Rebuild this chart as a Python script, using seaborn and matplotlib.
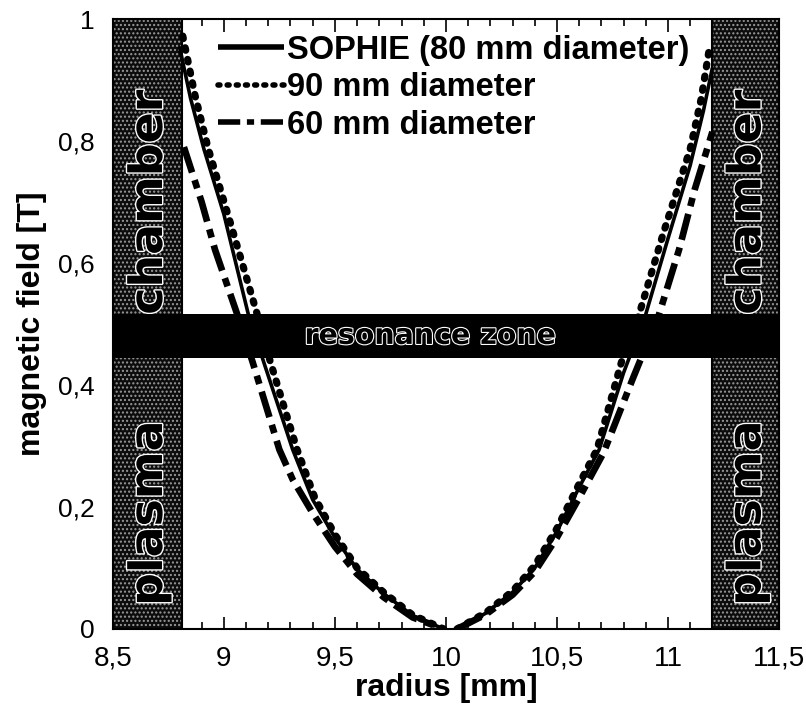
import matplotlib
matplotlib.use("Agg")
import matplotlib.pyplot as plt
import matplotlib.patheffects as pe
import matplotlib.ticker as mticker
import numpy as np
import pandas as pd
import seaborn as sns

# ---------------- data ----------------
sophie_r_left = [8.80, 8.85, 8.91, 9.00, 9.11, 9.18, 9.31, 9.40, 9.50, 9.60, 9.72, 9.85, 9.99]
sophie_b_left = [0.955, 0.870, 0.787, 0.680, 0.516, 0.437, 0.294, 0.212, 0.150, 0.098, 0.058, 0.022, 0.0]
sophie_r_right = [10.05, 10.18, 10.30, 10.40, 10.50, 10.60, 10.69, 10.80, 10.90, 11.00, 11.10, 11.16, 11.20]
sophie_b_right = [0.0, 0.026, 0.060, 0.100, 0.160, 0.232, 0.294, 0.420, 0.516, 0.640, 0.760, 0.850, 0.920]

d90_r_left = [8.815, 8.87, 8.93, 9.03, 9.15, 9.21, 9.33, 9.41, 9.50, 9.60, 9.72, 9.85, 9.99]
d90_b_left = [0.972, 0.875, 0.787, 0.665, 0.516, 0.437, 0.294, 0.215, 0.155, 0.100, 0.060, 0.023, 0.0]
d90_r_right = [10.05, 10.18, 10.30, 10.40, 10.50, 10.60, 10.68, 10.79, 10.87, 10.98, 11.10, 11.15, 11.19]
d90_b_right = [0.0, 0.027, 0.062, 0.104, 0.165, 0.238, 0.294, 0.437, 0.516, 0.650, 0.787, 0.870, 0.960]

d60_r_left = [8.82, 8.90, 8.96, 9.06, 9.13, 9.25, 9.31, 9.40, 9.50, 9.60, 9.72, 9.85, 9.99]
d60_b_left = [0.790, 0.700, 0.622, 0.516, 0.437, 0.294, 0.245, 0.190, 0.135, 0.090, 0.052, 0.019, 0.0]
d60_r_right = [10.05, 10.18, 10.30, 10.40, 10.50, 10.60, 10.71, 10.84, 10.96, 11.05, 11.12, 11.20]
d60_b_right = [0.0, 0.024, 0.056, 0.094, 0.150, 0.215, 0.289, 0.409, 0.516, 0.622, 0.720, 0.815]

series_labels = ["SOPHIE (80 mm diameter)", "90 mm diameter", "60 mm diameter"]

chamber_left = (8.5, 8.81)
chamber_right = (11.2, 11.5)
resonance_band = (0.445, 0.516)
chamber_words = ["plasma", "chamber"]
chamber_word_y = [0.19, 0.70]

x_ticks = [8.5, 9.0, 9.5, 10.0, 10.5, 11.0, 11.5]
x_ticklabels = ["8,5", "9", "9,5", "10", "10,5", "11", "11,5"]
y_ticks = [0.0, 0.2, 0.4, 0.6, 0.8, 1.0]
y_ticklabels = ["0", "0,2", "0,4", "0,6", "0,8", "1"]

# ---------------- figure ----------------
sns.set_theme(style="ticks")
plt.rcParams["font.family"] = ["Liberation Sans", "DejaVu Sans"]
plt.rcParams["hatch.linewidth"] = 1.0
for k in ("text.color", "axes.labelcolor", "xtick.color", "ytick.color", "axes.edgecolor"):
    plt.rcParams[k] = "black"

fig = plt.figure(figsize=(8.06, 7.15), dpi=100)
ax = fig.add_axes([0.140, 0.1203, 0.8265, 0.8531])

# plasma chamber regions
for (a, b) in (chamber_left, chamber_right):
    ax.axvspan(a, b, facecolor="#0c0c0c", edgecolor="#9a9a9a", hatch="....", lw=0, zorder=1)
    ax.axvspan(a, b, facecolor="none", edgecolor="black", lw=1.5, zorder=1.1)

# resonance zone
ax.axhspan(resonance_band[0], resonance_band[1], facecolor="black", lw=0, zorder=2)

outline = [pe.withStroke(linewidth=1.6, foreground="white")]
ax.text(9.93, np.mean(resonance_band), "resonance zone",
        ha="center", va="center", fontsize=20.5, fontweight="bold", color="black",
        family="DejaVu Sans", path_effects=outline, zorder=3)
for (a, b) in (chamber_left, chamber_right):
    for word, wy in zip(chamber_words, chamber_word_y):
        ax.text((a + b) / 2 + 0.01, wy, word, rotation=90, ha="center", va="center",
                fontsize=33, fontweight="bold", color="black", family="DejaVu Sans",
                path_effects=[pe.withStroke(linewidth=2.0, foreground="white")], zorder=1.5)

# curves
styles = [
    dict(color="black", lw=2.6, solid_capstyle="butt"),
    dict(color="black", lw=5.2, dashes=(0.35, 1.3), dash_capstyle="round"),
    dict(color="black", lw=4.8, dashes=(4.0, 1.2, 1.3, 1.2), dash_capstyle="butt"),
]
branches = [
    (sophie_r_left, sophie_b_left, sophie_r_right, sophie_b_right),
    (d90_r_left, d90_b_left, d90_r_right, d90_b_right),
    (d60_r_left, d60_b_left, d60_r_right, d60_b_right),
]
for lab, st, (rl, bl, rr, br) in zip(series_labels, styles, branches):
    sns.lineplot(x=rl, y=bl, ax=ax, sort=False, estimator=None, label=lab, zorder=4, **st)
    sns.lineplot(x=rr, y=br, ax=ax, sort=False, estimator=None, zorder=4, **st)

ax.set_xlim(8.5, 11.5)
ax.set_ylim(0, 1)
ax.set_xticks(x_ticks)
ax.set_xticklabels(x_ticklabels)
ax.set_yticks(y_ticks)
ax.set_yticklabels(y_ticklabels)
ax.xaxis.set_minor_locator(mticker.MultipleLocator(0.1))
ax.yaxis.set_minor_locator(mticker.MultipleLocator(0.05))
ax.tick_params(which="both", direction="in", top=True, right=True, color="black", width=1.2)
ax.tick_params(which="major", length=9)
ax.tick_params(which="minor", length=5)
ax.tick_params(axis="x", which="major", pad=12)
ax.tick_params(axis="y", which="major", pad=13)
for lbl in ax.get_xticklabels():
    lbl.set_family(["Liberation Sans Narrow", "Liberation Sans"])
    lbl.set_fontsize(20)
for lbl in ax.get_yticklabels():
    lbl.set_fontsize(19)
for sp in ax.spines.values():
    sp.set_linewidth(1.5)
    sp.set_color("black")
    sp.set_zorder(5)

ax.set_xlabel("radius [mm]", fontsize=23, fontweight="bold", labelpad=1)
ax.set_ylabel("magnetic field [T]", fontsize=23, fontweight="bold", labelpad=8)

leg = ax.legend(loc="upper left", bbox_to_anchor=(0.124, 1.012), frameon=False,
                prop=dict(size=23.5, weight="bold"), handlelength=2.0,
                handletextpad=0.12, labelspacing=0.2, borderpad=0.2)
for line in leg.get_lines():
    line.set_linewidth(4)
leg.set_zorder(6)

fig.savefig("out.png", dpi=100)
